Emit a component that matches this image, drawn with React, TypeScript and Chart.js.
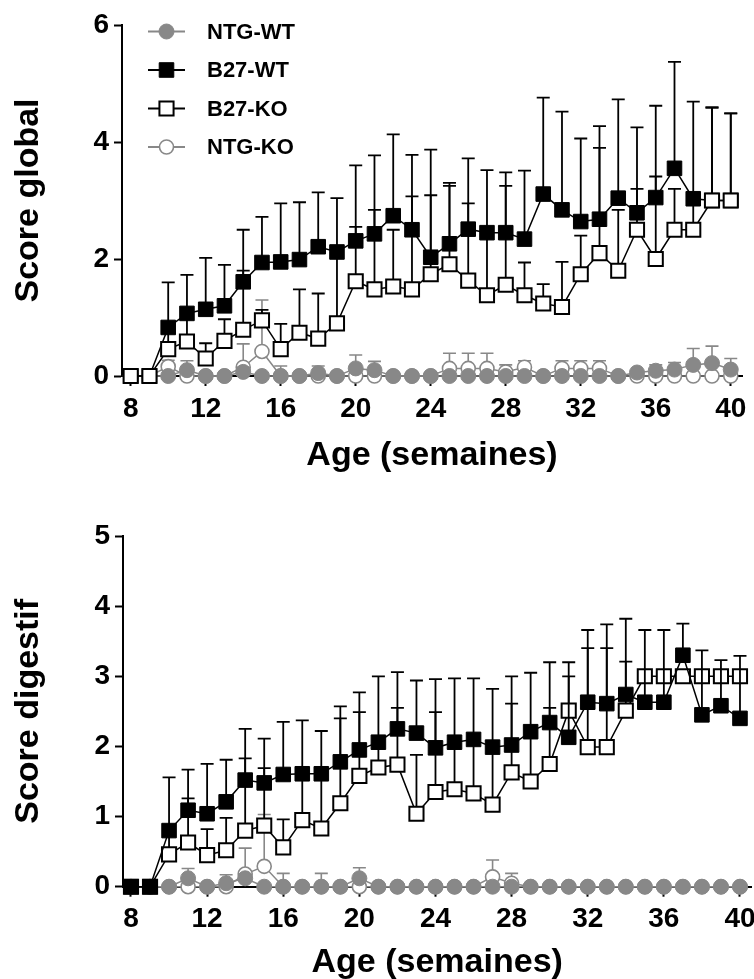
import React, { useEffect, useRef } from 'react';
import { Chart, registerables } from 'chart.js';

Chart.register(...registerables);

// ---------- data ----------
const weeks = [8, 9, 10, 11, 12, 13, 14, 15, 16, 17, 18, 19, 20, 21, 22, 23, 24, 25, 26, 27, 28, 29, 30, 31, 32, 33, 34, 35, 36, 37, 38, 39, 40];
const xTickValues = [8, 12, 16, 20, 24, 28, 32, 36, 40];
const globalYTicks = [0, 2, 4, 6];
const digestYTicks = [0, 1, 2, 3, 4, 5];

// Score global
const globalNtgWt = [0, 0, 0, 0.1, 0, 0, 0.07, 0, 0, 0, 0.05, 0, 0.13, 0.1, 0, 0, 0, 0, 0, 0, 0, 0, 0, 0, 0, 0, 0, 0.06, 0.09, 0.11, 0.19, 0.22, 0.11];
const globalNtgWtErr = [0, 0, 0, 0.16, 0, 0, 0.08, 0, 0, 0, 0.12, 0, 0.23, 0.15, 0, 0, 0, 0, 0, 0, 0, 0, 0, 0, 0, 0, 0, 0, 0.1, 0.12, 0.28, 0.29, 0.19];
const globalB27Wt = [0, 0, 0.83, 1.07, 1.14, 1.2, 1.61, 1.94, 1.95, 1.99, 2.21, 2.12, 2.31, 2.43, 2.74, 2.5, 2.03, 2.26, 2.51, 2.45, 2.45, 2.34, 3.11, 2.84, 2.64, 2.68, 3.04, 2.79, 3.05, 3.55, 3.03, 3.0, 3.0];
const globalB27WtErr = [0, 0, 0.77, 0.66, 0.88, 0.7, 0.89, 0.78, 1.0, 0.98, 0.93, 0.92, 1.29, 1.34, 1.39, 1.28, 1.84, 1.04, 1.21, 1.07, 1.03, 1.17, 1.65, 1.68, 1.42, 1.59, 1.69, 1.46, 1.57, 1.82, 1.66, 1.59, 1.49];
const globalB27Ko = [0, 0, 0.46, 0.59, 0.3, 0.6, 0.79, 0.95, 0.46, 0.74, 0.64, 0.9, 1.62, 1.48, 1.53, 1.48, 1.74, 1.91, 1.63, 1.38, 1.56, 1.38, 1.24, 1.18, 1.74, 2.1, 1.8, 2.5, 2.0, 2.5, 2.5, 3.0, 3.0];
const globalB27KoErr = [0, 0, 0.39, 0.51, 0.26, 0.37, 1.01, 0.18, 0.43, 0.74, 0.77, 1.2, 0.93, 1.36, 0.97, 1.59, 1.35, 1.34, 1.32, 1.02, 1.69, 0.56, 0.33, 0.77, 0.66, 1.8, 1.04, 0.7, 1.41, 0.7, 0.45, 1.59, 1.49];
const globalNtgKo = [0, 0, 0.16, 0, 0, 0, 0.15, 0.42, 0, 0, 0, 0, 0, 0, 0, 0, 0, 0.13, 0.13, 0.13, 0.07, 0.15, 0, 0.13, 0.13, 0.13, 0, 0, 0, 0, 0, 0, 0];
const globalNtgKoErr = [0, 0, 0.11, 0, 0, 0, 0.4, 0.88, 0.17, 0, 0, 0, 0, 0, 0, 0, 0, 0.26, 0.26, 0.26, 0.12, 0.11, 0, 0.13, 0.13, 0.13, 0, 0, 0, 0, 0, 0, 0];

// Score digestif
const digestNtgWt = [0, 0, 0, 0.12, 0, 0.05, 0.12, 0, 0, 0, 0, 0, 0.12, 0, 0, 0, 0, 0, 0, 0, 0, 0, 0, 0, 0, 0, 0, 0, 0, 0, 0, 0, 0];
const digestNtgWtErr = [0, 0, 0, 0.14, 0, 0.12, 0, 0, 0, 0, 0, 0, 0.15, 0, 0, 0, 0, 0, 0, 0, 0, 0, 0, 0, 0, 0, 0, 0, 0, 0, 0, 0, 0];
const digestB27Wt = [0, 0, 0.8, 1.09, 1.04, 1.21, 1.52, 1.48, 1.6, 1.61, 1.61, 1.78, 1.95, 2.06, 2.25, 2.19, 1.98, 2.06, 2.1, 1.99, 2.02, 2.21, 2.34, 2.13, 2.63, 2.61, 2.74, 2.63, 2.63, 3.3, 2.45, 2.58, 2.4];
const digestB27WtErr = [0, 0, 0.76, 0.58, 0.71, 0.6, 0.73, 0.63, 0.75, 0.76, 0.61, 0.79, 0.82, 0.94, 0.81, 0.75, 0.98, 0.91, 0.87, 0.83, 0.98, 0.84, 0.86, 0.87, 1.03, 1.13, 1.08, 1.03, 1.03, 0.45, 0.92, 0.65, 0.89];
const digestB27Ko = [0, 0, 0.46, 0.63, 0.45, 0.52, 0.8, 0.87, 0.56, 0.95, 0.83, 1.19, 1.58, 1.7, 1.74, 1.04, 1.35, 1.39, 1.33, 1.17, 1.63, 1.5, 1.75, 2.51, 1.99, 1.99, 2.51, 3.0, 3.0, 3.0, 3.0, 3.0, 3.0];
const digestB27KoErr = [0, 0, 0.29, 0.63, 0.37, 0.46, 1.03, 0.82, 0.4, 0.62, 0.75, 1.21, 0.91, 0.35, 0.81, 0.84, 1.14, 0.61, 0.72, 0.78, 0.98, 0.65, 0.8, 0.69, 1.41, 1.41, 0.7, 0.05, 0.05, 0.05, 0.05, 0.05, 0.05];
const digestNtgKo = [0, 0, 0, 0, 0, 0, 0.18, 0.29, 0, 0, 0, 0, 0, 0, 0, 0, 0, 0, 0, 0.14, 0.05, 0, 0, 0, 0, 0, 0, 0, 0, 0, 0, 0, 0];
const digestNtgKoErr = [0, 0, 0, 0, 0, 0, 0.37, 0.74, 0.19, 0, 0.19, 0, 0, 0, 0, 0, 0, 0, 0, 0.24, 0.14, 0, 0, 0, 0, 0, 0, 0, 0, 0, 0, 0, 0];

const seriesNames = ['NTG-WT', 'B27-WT', 'B27-KO', 'NTG-KO'];

// ---------- styles ----------
const GRAY = '#888888';
const FONT = "'Liberation Sans', Arial, Helvetica, sans-serif";

type Kind = 'ntgwt' | 'b27wt' | 'b27ko' | 'ntgko';

const styleFor: Record<Kind, any> = {
  ntgwt: { line: GRAY, pointStyle: 'circle', r: 7.5, fill: GRAY, stroke: GRAY, bw: 1, err: GRAY, errW: 1.6 },
  b27wt: { line: '#000', pointStyle: 'rect', r: 10.3, fill: '#000', stroke: '#000', bw: 1, err: '#000', errW: 1.8 },
  b27ko: { line: '#000', pointStyle: 'rect', r: 10, fill: '#fff', stroke: '#000', bw: 2, err: '#000', errW: 1.8 },
  ntgko: { line: GRAY, pointStyle: 'circle', r: 7, fill: '#fff', stroke: GRAY, bw: 1.6, err: GRAY, errW: 1.6 },
};

function makeDataset(label: string, kind: Kind, values: number[], errs: number[]) {
  const s = styleFor[kind];
  return {
    label,
    data: weeks.map((w, i) => ({ x: w, y: values[i] })),
    borderColor: s.line,
    borderWidth: 1.5,
    backgroundColor: s.fill,
    pointStyle: s.pointStyle,
    pointRadius: s.r,
    pointHoverRadius: s.r,
    pointBackgroundColor: s.fill,
    pointBorderColor: s.stroke,
    pointBorderWidth: s.bw,
    tension: 0,
    clip: false,
    seriesValues: values,
    errorTop: errs,
    errorColor: s.err,
    errorWidth: s.errW,
  };
}

const errorBarPlugin = {
  id: 'errorBars',
  beforeDatasetDraw(chart: any, args: any) {
    const ds = chart.data.datasets[args.index];
    const errs: number[] = ds.errorTop;
    const vals: number[] = ds.seriesValues;
    if (!errs) return;
    const yScale = chart.scales.y;
    const ctx = chart.ctx;
    const cap = 6.5;
    ctx.save();
    ctx.strokeStyle = ds.errorColor;
    ctx.lineWidth = ds.errorWidth;
    args.meta.data.forEach((pt: any, i: number) => {
      const e = errs[i];
      if (!e) return;
      const x = pt.x;
      const y0 = yScale.getPixelForValue(vals[i]);
      const y1 = yScale.getPixelForValue(vals[i] + e);
      ctx.beginPath();
      ctx.moveTo(x, y0);
      ctx.lineTo(x, y1);
      ctx.moveTo(x - cap, y1);
      ctx.lineTo(x + cap, y1);
      ctx.stroke();
    });
    ctx.restore();
  },
};

function drawMarker(ctx: CanvasRenderingContext2D, kind: Kind, x: number, y: number) {
  const s = styleFor[kind];
  ctx.save();
  ctx.fillStyle = s.fill;
  ctx.strokeStyle = s.stroke;
  ctx.lineWidth = s.bw;
  ctx.beginPath();
  if (s.pointStyle === 'circle') {
    ctx.arc(x, y, s.r, 0, Math.PI * 2);
  } else {
    const h = s.r * Math.SQRT1_2;
    ctx.rect(x - h, y - h, 2 * h, 2 * h);
  }
  ctx.fill();
  ctx.stroke();
  ctx.restore();
}

const legendKinds: Kind[] = ['ntgwt', 'b27wt', 'b27ko', 'ntgko'];

const legendPlugin = {
  id: 'insideLegend',
  afterDraw(chart: any) {
    const ctx: CanvasRenderingContext2D = chart.ctx;
    const rowsY = [31.5, 70, 108.5, 147];
    legendKinds.forEach((kind, i) => {
      const y = rowsY[i];
      const s = styleFor[kind];
      ctx.save();
      ctx.strokeStyle = s.line;
      ctx.lineWidth = 1.8;
      ctx.beginPath();
      ctx.moveTo(148, y);
      ctx.lineTo(185, y);
      ctx.stroke();
      ctx.restore();
      drawMarker(ctx, kind, 166.5, y);
      ctx.save();
      ctx.fillStyle = '#000';
      ctx.font = `bold 22px ${FONT}`;
      ctx.textAlign = 'left';
      ctx.textBaseline = 'middle';
      ctx.fillText(seriesNames[i], 207, y + 1);
      ctx.restore();
    });
  },
};

function buildOptions(cfg: {
  xmin: number; xmax: number; ymax: number; yTicks: number[];
  padTop: number; padRight: number; yWidth: number; xHeight: number;
  yTitle: string; xTitlePadBottom: number;
}) {
  const tickFont = { family: FONT, size: 28, weight: 'bold' as const };
  const titleFont = { family: FONT, size: 34, weight: 'bold' as const };
  return {
    responsive: false,
    animation: false as const,
    events: [] as any[],
    layout: { padding: { left: 0, top: cfg.padTop, right: cfg.padRight, bottom: 0 } },
    plugins: { legend: { display: false }, tooltip: { enabled: false } },
    scales: {
      x: {
        type: 'linear' as const,
        min: cfg.xmin,
        max: cfg.xmax,
        afterBuildTicks: (s: any) => { s.ticks = xTickValues.map((v) => ({ value: v })); },
        afterFit: (s: any) => { s.height = cfg.xHeight; },
        grid: { drawOnChartArea: false, drawTicks: true, tickLength: 10, tickWidth: 2, tickColor: '#000' },
        border: { display: true, color: '#000', width: 2 },
        ticks: { color: '#000', font: tickFont, padding: 6, maxRotation: 0, autoSkip: false, callback: (v: any) => String(v) },
        title: { display: true, text: 'Age (semaines)', color: '#000', font: titleFont, padding: { top: 0, bottom: cfg.xTitlePadBottom } },
      },
      y: {
        type: 'linear' as const,
        min: 0,
        max: cfg.ymax,
        afterBuildTicks: (s: any) => { s.ticks = cfg.yTicks.map((v) => ({ value: v })); },
        afterFit: (s: any) => { s.width = cfg.yWidth; },
        grid: { drawOnChartArea: false, drawTicks: true, tickLength: 8, tickWidth: 2, tickColor: '#000' },
        border: { display: true, color: '#000', width: 2 },
        ticks: { color: '#000', font: tickFont, padding: 5, callback: (v: any) => String(v) },
        title: { display: true, text: cfg.yTitle, color: '#000', font: titleFont, padding: { top: 8, bottom: 0 } },
      },
    },
  };
}

export default function App() {
  const topRef = useRef<HTMLCanvasElement | null>(null);
  const botRef = useRef<HTMLCanvasElement | null>(null);

  useEffect(() => {
    const topChart = new Chart(topRef.current as HTMLCanvasElement, {
      type: 'line',
      data: {
        datasets: [
          makeDataset(seriesNames[2], 'b27ko', globalB27Ko, globalB27KoErr),
          makeDataset(seriesNames[1], 'b27wt', globalB27Wt, globalB27WtErr),
          makeDataset(seriesNames[0], 'ntgwt', globalNtgWt, globalNtgWtErr),
          makeDataset(seriesNames[3], 'ntgko', globalNtgKo, globalNtgKoErr),
        ] as any,
      },
      options: buildOptions({
        xmin: 7.536, xmax: 40.6, ymax: 6, yTicks: globalYTicks,
        padTop: 25, padRight: 11, yWidth: 122, xHeight: 114,
        yTitle: 'Score global', xTitlePadBottom: 14,
      }) as any,
      plugins: [errorBarPlugin, legendPlugin],
    });

    const botChart = new Chart(botRef.current as HTMLCanvasElement, {
      type: 'line',
      data: {
        datasets: [
          makeDataset(seriesNames[1], 'b27wt', digestB27Wt, digestB27WtErr),
          makeDataset(seriesNames[2], 'b27ko', digestB27Ko, digestB27KoErr),
          makeDataset(seriesNames[0], 'ntgwt', digestNtgWt, digestNtgWtErr),
          makeDataset(seriesNames[3], 'ntgko', digestNtgKo, digestNtgKoErr),
        ] as any,
      },
      options: buildOptions({
        xmin: 7.58, xmax: 40.6, ymax: 5, yTicks: digestYTicks,
        padTop: 46, padRight: 28.6, yWidth: 123, xHeight: 113.3,
        yTitle: 'Score digestif', xTitlePadBottom: 17,
      }) as any,
      plugins: [errorBarPlugin],
    });

    return () => {
      topChart.destroy();
      botChart.destroy();
    };
  }, []);

  return (
    <div style={{ position: 'fixed', left: 0, top: 0, width: 754, height: 979, overflow: 'hidden', background: '#fff' }}>
      <canvas ref={topRef} width={754} height={490} style={{ position: 'absolute', left: 0, top: 0 }} />
      <canvas ref={botRef} width={780} height={510} style={{ position: 'absolute', left: 0, top: 490 }} />
    </div>
  );
}
